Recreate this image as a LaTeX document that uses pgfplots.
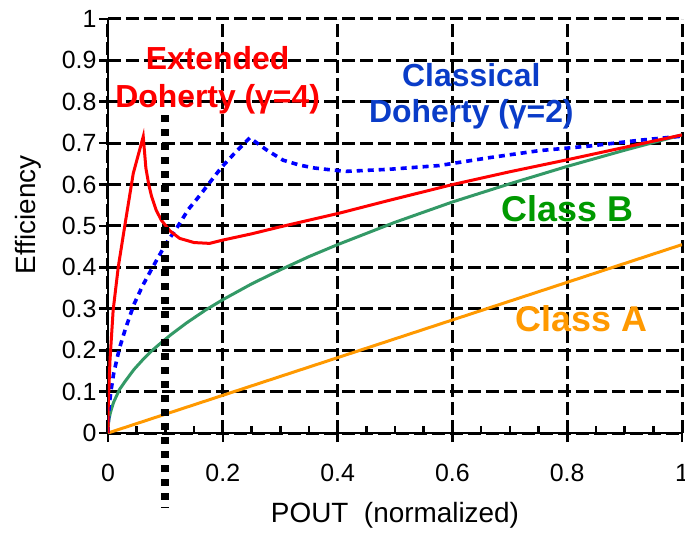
\documentclass[border=0pt]{standalone}
\usepackage{pgfplots}
\pgfplotsset{compat=1.18}
\usepackage{fontspec}
\setmainfont{Liberation Sans}

\definecolor{effred}{HTML}{FF0000}
\definecolor{effblue}{HTML}{0000FF}
\definecolor{lblblue}{HTML}{0A3CC8}
\definecolor{effgreen}{HTML}{339966}
\definecolor{lblgreen}{HTML}{009900}
\definecolor{efforange}{HTML}{FF9900}

\begin{document}
\begin{tikzpicture}
% page = axis box plus the margins of the reference (the right one crops the "1")
\useasboundingbox (-108bp,-102bp) rectangle (577bp,433bp);
\begin{axis}[
    name=ax,
    at={(0,0)}, anchor=south west,
    scale only axis,
    width=574bp, height=414bp,
    xmin=0, xmax=1, ymin=0, ymax=1,
    axis lines=left,
    axis line style={-, line width=2.6bp},
    xtick={0,0.2,0.4,0.6,0.8,1},
    ytick={0,0.1,0.2,0.3,0.4,0.5,0.6,0.7,0.8,0.9,1},
    tick align=outside,
    major tick length=9bp,
    every tick/.append style={black, line width=2.6bp},
    extra x ticks={0.05,0.1,0.15,0.25,0.3,0.35,0.45,0.5,0.55,0.65,0.7,0.75,0.85,0.9,0.95},
    extra x tick labels={},
    extra x tick style={grid=none, tick align=inside, major tick length=7bp},
    grid=major,
    grid style={black, line width=3bp, dash pattern=on 13bp off 5bp},
    /pgf/number format/assume math mode=true,
    ticklabel style={font=\fontsize{25}{28}\selectfont},
    xticklabel style={yshift=-19bp},
    yticklabel style={xshift=1bp},
    label style={font=\fontsize{28}{32}\selectfont},
    xlabel={POUT\ \ (normalized)},
    ylabel={Efficiency},
    xlabel style={at={(axis description cs:0.5,-0.198)}, anchor=center},
    ylabel style={at={(axis description cs:-0.139,0.527)}, anchor=center},
]
% Class A
\addplot[efforange, line width=3bp] coordinates {
    (0,0) (0.2,0.091) (0.4,0.182) (0.6,0.273) (0.8,0.364) (1,0.455)
};
% Class B
\addplot[effgreen, line width=3bp] coordinates {
    (0,0) (0.0005,0.02) (0.002,0.035) (0.0035,0.045) (0.006,0.058) (0.01,0.075)
    (0.02,0.105) (0.03,0.125) (0.045,0.153) (0.06,0.176) (0.075,0.197)
    (0.09,0.215) (0.11,0.238) (0.137,0.266) (0.17,0.297) (0.2,0.322)
    (0.25,0.36) (0.3,0.394) (0.35,0.426) (0.4,0.455) (0.5,0.509)
    (0.6,0.558) (0.7,0.602) (0.8,0.644) (0.9,0.683) (1,0.72)
};
% Classical Doherty
\addplot[effblue, line width=3.6bp, dash pattern=on 6bp off 5bp] coordinates {
    (0,0) (0.0005,0.03) (0.002,0.065) (0.005,0.1) (0.01,0.145) (0.02,0.205)
    (0.03,0.25) (0.045,0.31) (0.06,0.355) (0.076,0.396) (0.1,0.455)
    (0.122,0.5) (0.14,0.54) (0.16,0.574) (0.18,0.61) (0.198,0.642)
    (0.22,0.675) (0.247,0.713) (0.262,0.698) (0.276,0.684) (0.305,0.659)
    (0.334,0.647) (0.36,0.64) (0.392,0.635) (0.415,0.632) (0.49,0.637)
    (0.577,0.646) (0.664,0.665) (0.751,0.682) (0.838,0.693) (0.925,0.707) (1,0.717)
};
% Extended Doherty
\addplot[effred, line width=3bp] coordinates {
    (0,0) (0.0005,0.072) (0.0035,0.176) (0.009,0.297) (0.018,0.402)
    (0.03,0.507) (0.044,0.627) (0.0614,0.716) (0.066,0.64) (0.071,0.6)
    (0.076,0.571) (0.084,0.538) (0.093,0.514) (0.108,0.488) (0.125,0.47)
    (0.15,0.46) (0.177,0.458) (0.2,0.466) (0.25,0.481) (0.3,0.498)
    (0.403,0.531) (0.49,0.562) (0.6,0.6) (0.7,0.631) (0.8,0.66)
    (0.9,0.69) (1,0.72)
};
\node[anchor=base, text=effred, font=\fontsize{32}{34}\selectfont\bfseries]
    at (axis cs:0.191,0.877) {Extended};
\node[anchor=base, text=effred, font=\fontsize{32}{34}\selectfont\bfseries]
    at (axis cs:0.191,0.787) {Doherty (γ=4)};
\node[anchor=base, text=lblblue, font=\fontsize{32}{34}\selectfont\bfseries]
    at (axis cs:0.633,0.836) {Classical};
\node[anchor=base, text=lblblue, font=\fontsize{32}{34}\selectfont\bfseries]
    at (axis cs:0.633,0.749) {Doherty (γ=2)};
\node[anchor=base, text=lblgreen, font=\fontsize{36}{38}\selectfont\bfseries]
    at (axis cs:0.801,0.51) {Class B};
\node[anchor=base, text=efforange, font=\fontsize{36}{38}\selectfont\bfseries]
    at (axis cs:0.825,0.246) {Class A};
\end{axis}
% overlay axis for the transition marker, which runs past the axis box
\begin{axis}[
    at={(0,0)}, anchor=south west,
    scale only axis,
    width=574bp, height=414bp,
    xmin=0, xmax=1, ymin=0, ymax=1,
    hide axis, clip=false,
]
\addplot[black, line width=8bp, dash pattern=on 7bp off 7bp] coordinates {
    (0.1,0.768) (0.1,-0.181)
};
\end{axis}
\end{tikzpicture}
\end{document}
